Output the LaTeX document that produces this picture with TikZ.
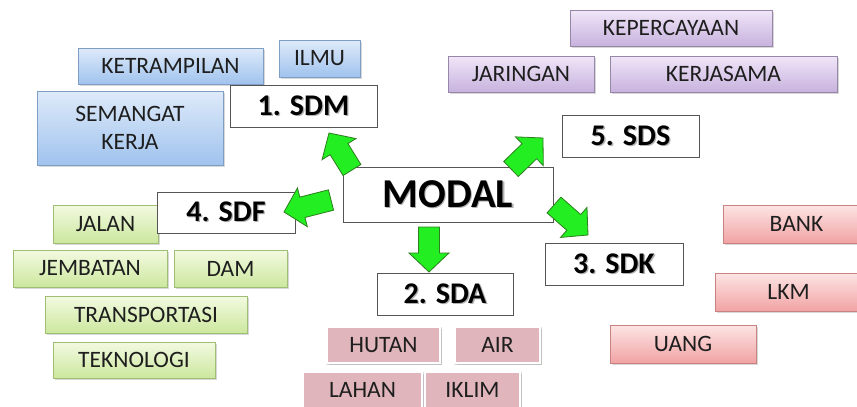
\documentclass[tikz,border=0pt]{standalone}
\usepackage{fontspec}
\setmainfont{Carlito}
\usetikzlibrary{calc,shadows,shadings}

\definecolor{arrowfill}{HTML}{22EE22}
\definecolor{arrowline}{HTML}{2E7D1E}
\definecolor{mainline}{HTML}{555555}
\definecolor{labeltext}{HTML}{1E1E1E}

% soft offset shadow behind bold labels
\newcommand\shtext[1]{\leavevmode\rlap{\kern1.3pt\raisebox{-1.3pt}{\textcolor{black!30}{#1}}}#1}

% block arrow from tail coordinate #1 to tip coordinate #2
\newcommand\blockarrow[2]{%
  \coordinate (ba-m) at ($(#2)!19pt!(#1)$);
  \draw[blockarr] ($(#1)!10.5pt!90:(#2)$) -- ($(ba-m)!10.5pt!90:(#2)$)
    -- ($(ba-m)!20pt!90:(#2)$) -- (#2) -- ($(ba-m)!20pt!-90:(#2)$)
    -- ($(ba-m)!10.5pt!-90:(#2)$) -- ($(#1)!10.5pt!-90:(#2)$) -- cycle;
}

\tikzset{
  catbox/.style={rectangle, inner sep=0pt, text=labeltext,
    font=\fontsize{23.5}{28}\selectfont, align=center,
    drop shadow={shadow xshift=1.5pt, shadow yshift=-2pt, opacity=0.3}},
  skybox/.style={catbox, draw={rgb,255:red,126;green,158;blue,196},
    top color={rgb,255:red,222;green,234;blue,249}, bottom color={rgb,255:red,160;green,195;blue,238}},
  greenbox/.style={catbox, draw={rgb,255:red,160;green,190;blue,115},
    top color={rgb,255:red,243;green,250;blue,225}, bottom color={rgb,255:red,204;green,231;blue,158}},
  purplebox/.style={catbox, draw={rgb,255:red,150;green,135;blue,168},
    top color={rgb,255:red,240;green,230;blue,248}, bottom color={rgb,255:red,200;green,178;blue,222}},
  redbox/.style={catbox, draw={rgb,255:red,200;green,130;blue,130},
    top color={rgb,255:red,253;green,228;blue,228}, bottom color={rgb,255:red,241;green,163;blue,163}},
  pinkbox/.style={catbox, draw=white, line width=2.5pt,
    fill={rgb,255:red,224;green,182;blue,188},
    drop shadow={shadow xshift=0.5pt, shadow yshift=-1pt, opacity=0.25, shadow scale=1.03}},
  mainbox/.style={rectangle, draw=mainline, line width=0.9pt, fill=white, inner sep=0pt,
    font=\fontsize{30}{32}\selectfont\bfseries},
  blockarr/.style={draw=arrowline, line width=0.8pt, fill=arrowfill, line join=miter},
}

\begin{document}
\begin{tikzpicture}[x=1pt,y=-1pt]
\useasboundingbox[fill=white] (0,0) rectangle (857,407);

% human capital items
\node[skybox, minimum width=185pt, minimum height=36pt] (ketr) at (170.5,66) {KETRAMPILAN};
\node[skybox, minimum width=81pt, minimum height=37pt] (ilmu) at (319.5,58.5) {ILMU};
\node[skybox, minimum width=186pt, minimum height=74pt] (seman) at (130,128) {SEMANGAT\\KERJA};

% social capital items
\node[purplebox, minimum width=202pt, minimum height=36pt] (keperc) at (671,28) {KEPERCAYAAN};
\node[purplebox, minimum width=146pt, minimum height=36pt] (jaring) at (521,74) {JARINGAN};
\node[purplebox, minimum width=227pt, minimum height=36pt] (kerjas) at (723.5,74) {KERJASAMA};

% financial capital items
\node[redbox, minimum width=147pt, minimum height=38pt] (bank) at (796.5,224) {BANK};
\node[redbox, minimum width=147pt, minimum height=38pt] (lkm) at (788.5,292) {LKM};
\node[redbox, minimum width=146pt, minimum height=38pt] (uang) at (683,344) {UANG};

% physical capital items
\node[greenbox, minimum width=105pt, minimum height=38pt] (jalan) at (105.5,224) {JALAN};
\node[greenbox, minimum width=154pt, minimum height=37pt] (jemb) at (90,268.5) {JEMBATAN};
\node[greenbox, minimum width=113pt, minimum height=37pt] (dam) at (230.5,268.5) {DAM};
\node[greenbox, minimum width=202pt, minimum height=37pt] (transp) at (146,314.5) {TRANSPORTASI};
\node[greenbox, minimum width=162pt, minimum height=36pt] (tekno) at (134,360) {TEKNOLOGI};

% natural capital items
\node[pinkbox, minimum width=113pt, minimum height=36pt] (hutan) at (383.5,345) {HUTAN};
\node[pinkbox, minimum width=85pt, minimum height=36pt] (air) at (497.5,345) {AIR};
\node[pinkbox, minimum width=119pt, minimum height=36pt] (lahan) at (362.5,390) {LAHAN};
\node[pinkbox, minimum width=95pt, minimum height=36pt] (iklim) at (472.5,390) {IKLIM};

% capital types
\node[mainbox, minimum width=147pt, minimum height=42pt] (sdm) at (303.5,106) {\shtext{1. SDM}};
\node[mainbox, minimum width=136pt, minimum height=42pt] (sda) at (445,294) {\shtext{2. SDA}};
\node[mainbox, minimum width=138pt, minimum height=42pt] (sdk) at (614,264) {\shtext{3. SDK}};
\node[mainbox, minimum width=138pt, minimum height=41pt] (sdf) at (226,212.5) {\shtext{4. SDF}};
\node[mainbox, minimum width=137pt, minimum height=42pt] (sds) at (630.5,136) {\shtext{5. SDS}};
\node[mainbox, minimum width=210pt, minimum height=55pt, font=\fontsize{41}{44}\selectfont\bfseries] (modal) at (448,194.5) {\shtext{MODAL}};

% arrow ends
\coordinate (t-sdm) at (352,170);  \coordinate (h-sdm) at (329,133);
\coordinate (t-sds) at (511,169);  \coordinate (h-sds) at (543,138);
\coordinate (t-sdf) at (331,200);  \coordinate (h-sdf) at (284,212);
\coordinate (t-sda) at (429,227);  \coordinate (h-sda) at (429,272);
\coordinate (t-sdk) at (554,205);  \coordinate (h-sdk) at (588,235);

\blockarrow{t-sdm}{h-sdm}
\blockarrow{t-sds}{h-sds}
\blockarrow{t-sdf}{h-sdf}
\blockarrow{t-sda}{h-sda}
\blockarrow{t-sdk}{h-sdk}
\end{tikzpicture}
\end{document}
